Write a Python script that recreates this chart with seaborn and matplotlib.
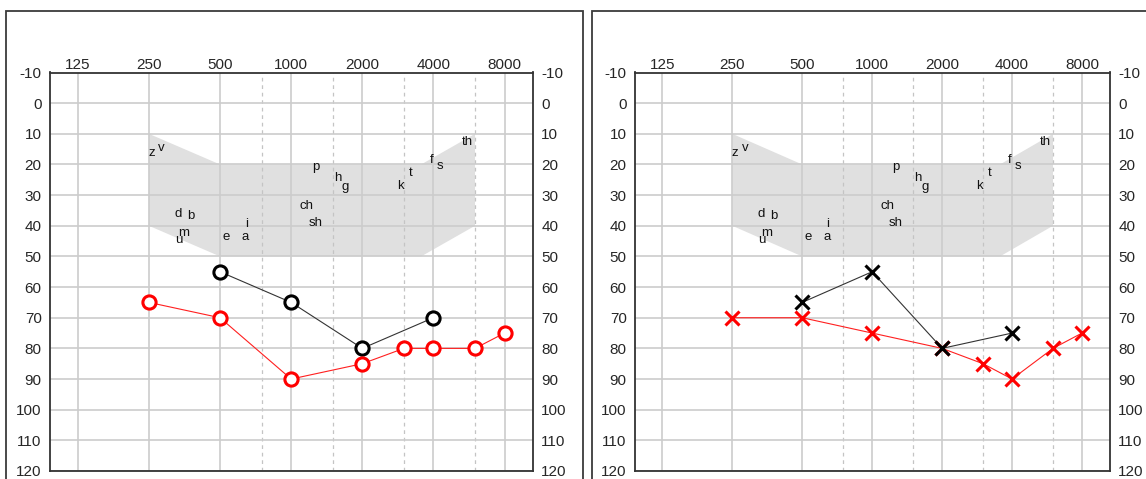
import numpy as np
import pandas as pd
import matplotlib
matplotlib.use('Agg')
import matplotlib.pyplot as plt
from matplotlib.patches import Rectangle
import seaborn as sns

# audiogram values (Hz, dB HL)
freq_labels = [125, 250, 500, 1000, 2000, 4000, 8000]
half_octaves = [750, 1500, 3000, 6000]
db_ticks = list(range(-10, 130, 10))

left_black_f = [500, 1000, 2000, 4000]
left_black_db = [55, 65, 80, 70]
left_red_f = [250, 500, 1000, 2000, 3000, 4000, 6000, 8000]
left_red_db = [65, 70, 90, 85, 80, 80, 80, 75]

right_black_f = [500, 1000, 2000, 4000]
right_black_db = [65, 55, 80, 75]
right_red_f = [250, 500, 1000, 2000, 3000, 4000, 6000, 8000]
right_red_db = [70, 70, 75, 80, 85, 90, 80, 75]

# speech banana outline
banana_f = [250, 500, 3550, 6000, 6000, 3550, 500, 250]
banana_db = [10, 20, 20, 10, 40, 50, 50, 40]

# speech sounds: label, octave above 125 Hz, dB
sounds = ['z', 'v', 'd', 'b', 'm', 'u', 'e', 'a', 'i', 'p', 'h', 'g',
          'ch', 'sh', 'k', 't', 'f', 's', 'th']
sound_oct = [1.04, 1.18, 1.41, 1.59, 1.49, 1.42, 2.09, 2.35, 2.37, 3.34, 3.65, 3.76,
             3.22, 3.34, 4.54, 4.68, 4.97, 5.09, 5.48]
sound_db = [16.2, 14.6, 36.2, 36.8, 42.3, 44.8, 43.6, 43.6, 39.4, 20.8, 24.3, 27.4,
            33.6, 39.0, 26.9, 22.7, 18.6, 20.6, 12.7]

sns.set_style('white')
plt.rcParams['font.family'] = ['Liberation Sans', 'DejaVu Sans']

W, H = 1146, 479
fig = plt.figure(figsize=(W / 100, H / 100), dpi=100)

# outer frames
fig.patches.append(Rectangle((6 / W, -0.1), 577 / W, 1.1 + (479 - 11) / H - 1,
                             transform=fig.transFigure, fill=False,
                             edgecolor='#3a3a3a', linewidth=1.3))
fig.patches.append(Rectangle((592 / W, -0.1), 0.6, 1.1 + (479 - 11) / H - 1,
                             transform=fig.transFigure, fill=False,
                             edgecolor='#3a3a3a', linewidth=1.3))

ax1 = fig.add_axes([50 / W, 8 / H, 483 / W, 398.5 / H])
ax2 = fig.add_axes([635 / W, 8 / H, 475 / W, 398.5 / H])


def setup(ax):
    ax.set_xscale('log', base=2)
    ax.set_xlim(125 * 2 ** -0.39, 125 * 2 ** 6.4)
    ax.set_ylim(120, -10)
    ax.set_xticks(freq_labels)
    ax.set_xticklabels([str(f) for f in freq_labels])
    ax.set_xticks(half_octaves, minor=True)
    ax.set_yticks(db_ticks)
    ax.set_yticklabels([str(d) for d in db_ticks])
    ax.tick_params(axis='x', which='both', top=True, bottom=False, labeltop=True,
                   labelbottom=False, length=0, pad=0.3, labelsize=11)
    ax.tick_params(axis='x', which='minor', labeltop=False)
    ax.tick_params(axis='y', left=True, right=True, labelleft=True, labelright=True,
                   length=0, labelsize=11, pad=6)
    ax.set_axisbelow(True)
    ax.grid(True, which='major', color='#cccccc', linewidth=1.2)
    ax.grid(True, which='minor', axis='x', color='#c4c4c4', linewidth=0.9,
            linestyle=(0, (3, 3)))
    for sp in ax.spines.values():
        sp.set_color('#333333')
        sp.set_linewidth(1.3)
    ax.fill(banana_f, banana_db, color='#e0e0e0', linewidth=0, zorder=0)
    for s, o, d in zip(sounds, sound_oct, sound_db):
        ax.text(125 * 2 ** o, d, s, ha='center', va='center', fontsize=9.5,
                color='#111111', zorder=3)


setup(ax1)
setup(ax2)

circle_kw = dict(marker='o', markersize=9.5, markerfacecolor='white',
                 markeredgewidth=2.2, linewidth=0.8)
cross_kw = dict(marker='x', markersize=10, markeredgewidth=2.2, linewidth=0.8)

sns.lineplot(x=left_black_f, y=left_black_db, ax=ax1, color='#333333',
             markeredgecolor='black', zorder=4, **circle_kw)
sns.lineplot(x=left_red_f, y=left_red_db, ax=ax1, color='#ff2020',
             markeredgecolor='#ff0000', zorder=4, **circle_kw)
sns.lineplot(x=right_red_f, y=right_red_db, ax=ax2, color='#ff2020',
             markeredgecolor='#ff0000', zorder=4, **cross_kw)
sns.lineplot(x=right_black_f, y=right_black_db, ax=ax2, color='#333333',
             markeredgecolor='black', zorder=5, **cross_kw)

for ax in (ax1, ax2):
    ax.set_ylim(120, -10)
    ax.set_xlabel('')
    ax.set_ylabel('')

fig.savefig('out.png', dpi=100)
